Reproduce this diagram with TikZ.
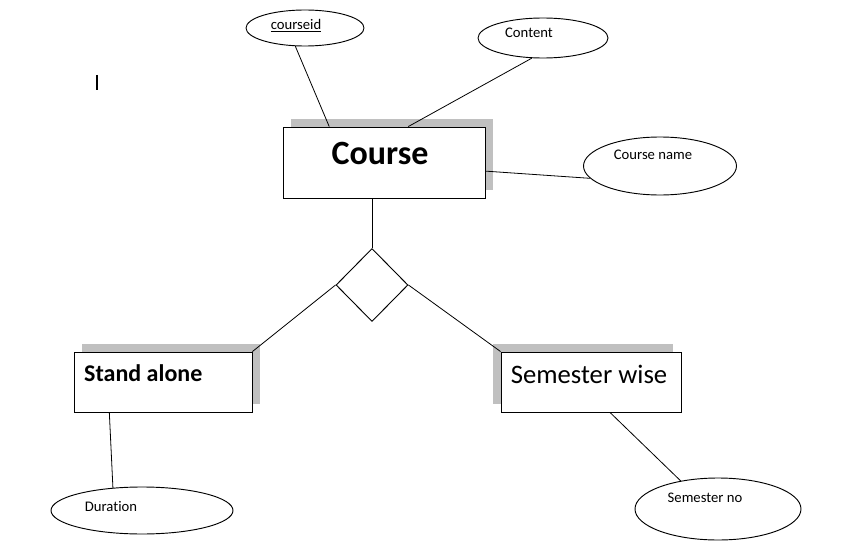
\documentclass[tikz,border=0pt]{standalone}
\usepackage{fontspec}
\setmainfont[Ligatures=NoCommon]{Carlito}
\usetikzlibrary{calc,positioning,shapes.geometric,shadows}
\definecolor{shadowgray}{HTML}{C0C0C0}

\tikzset{
  entity/.style={draw,rectangle,inner sep=0pt,fill=white,line width=0.7pt},
  attrib/.style={draw,ellipse,inner sep=0pt,fill=white,line width=0.7pt},
  relship/.style={draw,diamond,inner sep=0pt,fill=white,line width=0.7pt},
  shadowNE/.style={general shadow={fill=shadowgray,shadow xshift=6pt,shadow yshift=6pt}},
  shadowNW/.style={general shadow={fill=shadowgray,shadow xshift=-6pt,shadow yshift=6pt}},
  attrtext/.style={font=\fontsize{11}{13}\selectfont},
  link/.style={line width=0.6pt}
}

\begin{document}
\begin{tikzpicture}[x=0.75pt,y=-0.75pt]
\path[use as bounding box,fill=white] (0,0) rectangle (843,560);

% entities
\node[entity,shadowNE,minimum width=151.5pt,minimum height=53.25pt,
  label={[font=\fontsize{25.5}{28}\selectfont\bfseries,xshift=-3pt,yshift=7pt]center:Course}]
  (course) at (384,162.5) {};
\node[entity,shadowNE,minimum width=133.5pt,minimum height=45pt,
  label={[font=\fontsize{18}{21}\selectfont\bfseries,anchor=west,xshift=4.5pt,yshift=6.75pt]west:Stand alone}]
  (stand) at (163,382) {};
\node[entity,shadowNW,minimum width=135pt,minimum height=45pt,
  label={[font=\fontsize{20}{23}\selectfont,xshift=-1.5pt,yshift=6pt]center:Semester wise}]
  (semwise) at (591,382) {};

% relationship
\node[relship,minimum width=54pt,minimum height=54.75pt] (rel) at (372,285) {};

% attributes
\node[attrib,minimum width=88.5pt,minimum height=27pt,
  label={[attrtext,xshift=-6.75pt,yshift=1.5pt]center:\underline{courseid}}]
  (cid) at (305,28) {};
\node[attrib,minimum width=97.5pt,minimum height=30pt,
  label={[attrtext,xshift=-10.5pt,yshift=3.75pt]center:Content}]
  (content) at (543,38) {};
\node[attrib,minimum width=114.75pt,minimum height=43.5pt,
  label={[attrtext,xshift=-5.25pt,yshift=8.25pt]center:Course name}]
  (cname) at (660,166) {};
\node[attrib,minimum width=136.5pt,minimum height=35.25pt,
  label={[attrtext,xshift=-23.25pt,yshift=3pt]center:Duration}]
  (dur) at (142,510.5) {};
\node[attrib,minimum width=124.5pt,minimum height=46.5pt,
  label={[attrtext,xshift=-9.75pt,yshift=8.25pt]center:Semester no}]
  (semno) at (718,509) {};

% connectors
\draw[link] ($(course.north west)!0.23!(course.north east)$) -- (cid.242);
\draw[link] ($(course.north west)!0.62!(course.north east)$) -- (content.241);
\draw[link] ($(course.north east)!0.62!(course.south east)$) -- (cname.190);
\draw[link] (rel.north |- course.south) -- (rel.north);
\draw[link] (rel.west) -- (stand.north east);
\draw[link] (rel.east) -- (semwise.north west);
\draw[link] ($(stand.south west)!0.2!(stand.south east)$) -- (dur.142);
\draw[link] ($(semwise.south west)!0.605!(semwise.south east)$) -- (semno.143);

% text cursor
\draw[line width=1.5pt] (97,75) -- (97,90);
\end{tikzpicture}
\end{document}
